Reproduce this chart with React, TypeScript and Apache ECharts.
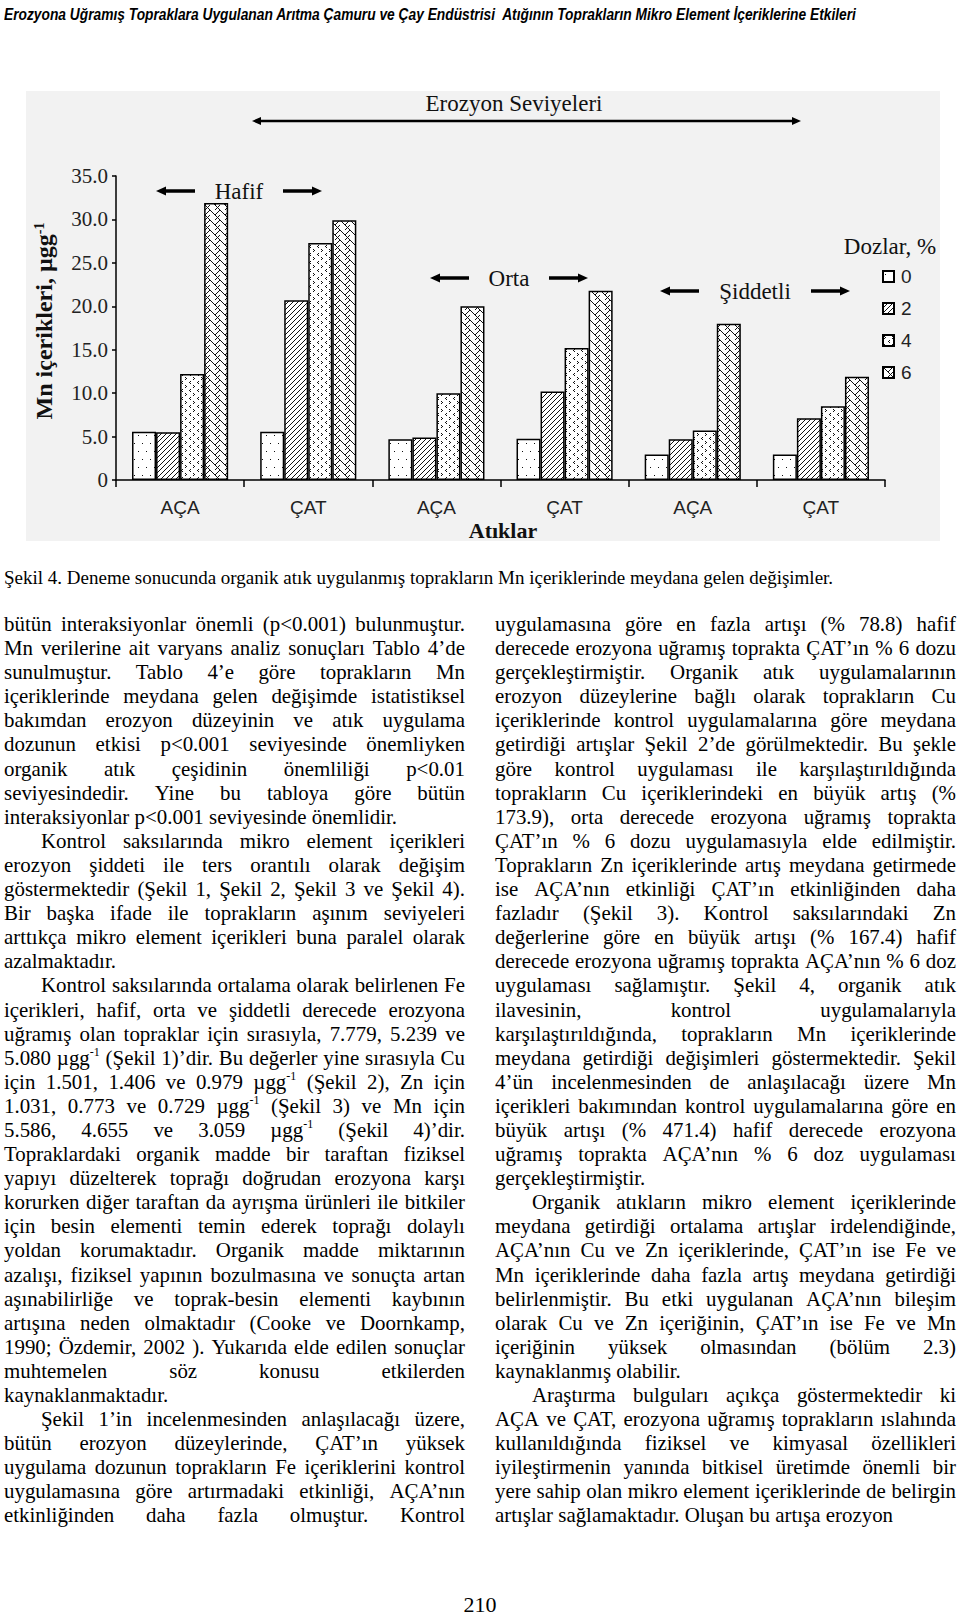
import React, { useEffect, useLayoutEffect, useRef } from 'react';
import * as echarts from 'echarts';

// ---------------- DATA ----------------
const erosionLevels = ['Hafif', 'Orta', 'Şiddetli'];
const categories = ['AÇA', 'ÇAT', 'AÇA', 'ÇAT', 'AÇA', 'ÇAT'];
const doses = ['0', '2', '4', '6'];
const dose0 = [5.55, 5.55, 4.7, 4.75, 2.95, 2.95];
const dose2 = [5.5, 20.7, 4.9, 10.2, 4.7, 7.1];
const dose4 = [12.2, 27.3, 10.0, 15.2, 5.7, 8.5];
const dose6 = [31.9, 29.9, 20.0, 21.8, 18.0, 11.9];
const yMin = 0;
const yMax = 35;
const yStep = 5;

const headerText =
  'Erozyona Uğramış Topraklara Uygulanan Arıtma Çamuru ve Çay Endüstrisi  Atığının Toprakların Mikro Element İçeriklerine Etkileri';
const captionText =
  'Şekil 4. Deneme sonucunda organik atık uygulanmış toprakların Mn içeriklerinde meydana gelen değişimler.';
const pageNumber = '210';

// mode: j = justified, e = paragraph end, ij = indented justified
const leftLines: [string, string][] = [
  ['bütün interaksiyonlar önemli (p<0.001) bulunmuştur.', 'j'],
  ['Mn verilerine ait varyans analiz sonuçları Tablo 4’de', 'j'],
  ['sunulmuştur. Tablo 4’e göre toprakların Mn', 'j'],
  ['içeriklerinde meydana gelen değişimde istatistiksel', 'j'],
  ['bakımdan erozyon düzeyinin ve atık uygulama', 'j'],
  ['dozunun etkisi p<0.001 seviyesinde önemliyken', 'j'],
  ['organik atık çeşidinin önemliliği p<0.01', 'j'],
  ['seviyesindedir. Yine bu tabloya göre bütün', 'j'],
  ['interaksiyonlar p<0.001 seviyesinde önemlidir.', 'e'],
  ['Kontrol saksılarında mikro element içerikleri', 'ij'],
  ['erozyon şiddeti ile ters orantılı olarak değişim', 'j'],
  ['göstermektedir (Şekil 1, Şekil 2, Şekil 3 ve Şekil 4).', 'j'],
  ['Bir başka ifade ile toprakların aşınım seviyeleri', 'j'],
  ['arttıkça mikro element içerikleri buna paralel olarak', 'j'],
  ['azalmaktadır.', 'e'],
  ['Kontrol saksılarında ortalama olarak belirlenen Fe', 'ij'],
  ['içerikleri, hafif, orta ve şiddetli derecede erozyona', 'j'],
  ['uğramış olan topraklar için sırasıyla, 7.779, 5.239 ve', 'j'],
  ['5.080 µgg^-1 (Şekil 1)’dir. Bu değerler yine sırasıyla Cu', 'j'],
  ['için 1.501, 1.406 ve 0.979 µgg^-1 (Şekil 2), Zn için', 'j'],
  ['1.031, 0.773 ve 0.729 µgg^-1 (Şekil 3) ve Mn için', 'j'],
  ['5.586, 4.655 ve 3.059 µgg^-1 (Şekil 4)’dir.', 'j'],
  ['Topraklardaki organik madde bir taraftan fiziksel', 'j'],
  ['yapıyı düzelterek toprağı doğrudan erozyona karşı', 'j'],
  ['korurken diğer taraftan da ayrışma ürünleri ile bitkiler', 'j'],
  ['için besin elementi temin ederek toprağı dolaylı', 'j'],
  ['yoldan korumaktadır. Organik madde miktarının', 'j'],
  ['azalışı, fiziksel yapının bozulmasına ve sonuçta artan', 'j'],
  ['aşınabilirliğe ve toprak-besin elementi kaybının', 'j'],
  ['artışına neden olmaktadır (Cooke ve Doornkamp,', 'j'],
  ['1990; Özdemir, 2002 ). Yukarıda elde edilen sonuçlar', 'j'],
  ['muhtemelen söz konusu etkilerden', 'j'],
  ['kaynaklanmaktadır.', 'e'],
  ['Şekil 1’in incelenmesinden anlaşılacağı üzere,', 'ij'],
  ['bütün erozyon düzeylerinde, ÇAT’ın yüksek', 'j'],
  ['uygulama dozunun toprakların Fe içeriklerini kontrol', 'j'],
  ['uygulamasına göre artırmadaki etkinliği, AÇA’nın', 'j'],
  ['etkinliğinden daha fazla olmuştur. Kontrol', 'j'],
];

const rightLines: [string, string][] = [
  ['uygulamasına göre en fazla artışı (% 78.8) hafif', 'j'],
  ['derecede erozyona uğramış toprakta ÇAT’ın % 6 dozu', 'j'],
  ['gerçekleştirmiştir. Organik atık uygulamalarının', 'j'],
  ['erozyon düzeylerine bağlı olarak toprakların Cu', 'j'],
  ['içeriklerinde kontrol uygulamalarına göre meydana', 'j'],
  ['getirdiği artışlar Şekil 2’de görülmektedir. Bu şekle', 'j'],
  ['göre kontrol uygulaması ile karşılaştırıldığında', 'j'],
  ['toprakların Cu içeriklerindeki en büyük artış (%', 'j'],
  ['173.9), orta derecede erozyona uğramış toprakta', 'j'],
  ['ÇAT’ın % 6 dozu uygulamasıyla elde edilmiştir.', 'j'],
  ['Toprakların Zn içeriklerinde artış meydana getirmede', 'j'],
  ['ise AÇA’nın etkinliği ÇAT’ın etkinliğinden daha', 'j'],
  ['fazladır (Şekil 3). Kontrol saksılarındaki Zn', 'j'],
  ['değerlerine göre en büyük artışı (% 167.4) hafif', 'j'],
  ['derecede erozyona uğramış toprakta AÇA’nın % 6 doz', 'j'],
  ['uygulaması sağlamıştır. Şekil 4, organik atık', 'j'],
  ['ilavesinin, kontrol uygulamalarıyla', 'j'],
  ['karşılaştırıldığında, toprakların Mn içeriklerinde', 'j'],
  ['meydana getirdiği değişimleri göstermektedir. Şekil', 'j'],
  ['4’ün incelenmesinden de anlaşılacağı üzere Mn', 'j'],
  ['içerikleri bakımından kontrol uygulamalarına göre en', 'j'],
  ['büyük artışı (% 471.4) hafif derecede erozyona', 'j'],
  ['uğramış toprakta AÇA’nın % 6 doz uygulaması', 'j'],
  ['gerçekleştirmiştir.', 'e'],
  ['Organik atıkların mikro element içeriklerinde', 'ij'],
  ['meydana getirdiği ortalama artışlar irdelendiğinde,', 'j'],
  ['AÇA’nın Cu ve Zn içeriklerinde, ÇAT’ın ise Fe ve', 'j'],
  ['Mn içeriklerinde daha fazla artış meydana getirdiği', 'j'],
  ['belirlenmiştir. Bu etki uygulanan AÇA’nın bileşim', 'j'],
  ['olarak Cu ve Zn içeriğinin, ÇAT’ın ise Fe ve Mn', 'j'],
  ['içeriğinin yüksek olmasından (bölüm 2.3)', 'j'],
  ['kaynaklanmış olabilir.', 'e'],
  ['Araştırma bulguları açıkça göstermektedir ki', 'ij'],
  ['AÇA ve ÇAT, erozyona uğramış toprakların ıslahında', 'j'],
  ['kullanıldığında fiziksel ve kimyasal özellikleri', 'j'],
  ['iyileştirmenin yanında bitkisel üretimde önemli bir', 'j'],
  ['yere sahip olan mikro element içeriklerinde de belirgin', 'j'],
  ['artışlar sağlamaktadır. Oluşan bu artışa erozyon', 'e'],
];

// ---------------- LAYOUT ----------------
const LH = 24.1;
const BODY_FS = 20.9;
const SERIF = '"Liberation Serif", "Times New Roman", serif';
const SANS = '"Liberation Sans", Arial, sans-serif';
const CHART_TOP = 80;

function renderWord(w: string, k: number) {
  const idx = w.indexOf('^');
  if (idx < 0) return <span key={k}>{w}</span>;
  return (
    <span key={k}>
      {w.slice(0, idx)}
      <sup style={{ fontSize: 12, lineHeight: 0, verticalAlign: 'baseline', position: 'relative', top: -9 }}>
        {w.slice(idx + 1)}
      </sup>
    </span>
  );
}

function Line({ t, m }: { t: string; m: string }) {
  const ref = useRef<HTMLDivElement>(null);
  const words = t.split(/\s+/).filter(Boolean);
  const indent = m.startsWith('i');
  const just = m.endsWith('j');
  useLayoutEffect(() => {
    const el = ref.current!;
    el.style.transform = 'none';
    if (el.scrollWidth > el.clientWidth + 0.5) {
      el.style.transformOrigin = '0 0';
      el.style.transform = `scaleX(${el.clientWidth / el.scrollWidth})`;
    }
  }, [t, m]);
  const style: React.CSSProperties = {
    height: LH,
    lineHeight: LH + 'px',
    whiteSpace: 'nowrap',
    paddingLeft: indent ? 37 : 0,
    display: just ? 'flex' : 'block',
    justifyContent: 'space-between',
  };
  if (just)
    return (
      <div ref={ref} style={style}>
        {words.map(renderWord)}
      </div>
    );
  const parts: React.ReactNode[] = [];
  words.forEach((w, k) => {
    if (k) parts.push(<span key={'s' + k}> </span>);
    parts.push(renderWord(w, k));
  });
  return (
    <div ref={ref} style={style}>
      {parts}
    </div>
  );
}

function makePattern(w: number, h: number, pixels: [number, number][]) {
  const c = document.createElement('canvas');
  c.width = w;
  c.height = h;
  const g = c.getContext('2d')!;
  g.fillStyle = '#ffffff';
  g.fillRect(0, 0, w, h);
  g.fillStyle = '#111111';
  pixels.forEach(([x, y]) => g.fillRect(x, y, 1, 1));
  return { image: c.toDataURL(), imageWidth: w, imageHeight: h, repeat: 'repeat' };
}

function buildPatterns() {
  const dots = makePattern(8, 16, [[2, 3], [6, 11]]);
  const hatchPx: [number, number][] = [];
  for (let i = 0; i < 5; i++) hatchPx.push([i, 4 - i]);
  const hatch = makePattern(5, 5, hatchPx);
  const chev = makePattern(8, 8, [[1, 1], [2, 2], [1, 3], [6, 5], [5, 6], [6, 7]]);
  const weavePx: [number, number][] = [];
  for (let i = 0; i < 10; i++) weavePx.push([i, i]);
  for (let i = 0; i < 5; i++) weavePx.push([9 - i, i]);
  for (let i = 5; i < 10; i++) weavePx.push([14 - i, i]);
  const weave = makePattern(10, 10, weavePx);
  return [dots, hatch, chev, weave];
}

function arrow(x1: number, x2: number, y: number, left: boolean, right: boolean, lw: number, hl: number, hh: number) {
  const els: any[] = [];
  const a = left ? x1 + hl - 1 : x1;
  const b = right ? x2 - hl + 1 : x2;
  els.push({ type: 'line', shape: { x1: a, y1: y, x2: b, y2: y }, style: { stroke: '#000', lineWidth: lw } });
  if (left)
    els.push({ type: 'polygon', shape: { points: [[x1, y], [x1 + hl, y - hh], [x1 + hl, y + hh]] }, style: { fill: '#000' } });
  if (right)
    els.push({ type: 'polygon', shape: { points: [[x2, y], [x2 - hl, y - hh], [x2 - hl, y + hh]] }, style: { fill: '#000' } });
  return els;
}

const Chart: React.FC = () => {
  const ref = useRef<HTMLDivElement>(null);
  useEffect(() => {
    const chart = echarts.init(ref.current!, null, { renderer: 'svg' });
    const patterns = buildPatterns();
    const seriesValues = [dose0, dose2, dose4, dose6];
    const axisLine = { color: '#000', width: 1.5 };

    // annotation layout (chart-div coordinates)
    const levelText = [
      { x: 239, y: 111, hw: 25 },
      { x: 509, y: 198, hw: 21 },
      { x: 755, y: 211, hw: 37 },
    ];
    const graphics: any[] = [
      { type: 'rect', z: -10, shape: { x: 26, y: 11, width: 914, height: 450 }, style: { fill: '#f2f2f2' } },
      {
        type: 'text', x: 514, y: 23,
        style: { text: 'Erozyon Seviyeleri', fontFamily: SERIF, fontSize: 23, fill: '#111', textAlign: 'center', textVerticalAlign: 'middle', align: 'center', verticalAlign: 'middle' },
      },
      ...arrow(252, 801, 41, true, true, 2.5, 9, 4),
      {
        type: 'text', x: 890, y: 166,
        style: { text: 'Dozlar, %', fontFamily: SERIF, fontSize: 23, fill: '#111', textAlign: 'center', textVerticalAlign: 'middle', align: 'center', verticalAlign: 'middle' },
      },
      {
        type: 'text', x: 503, y: 450,
        style: { text: 'Atıklar', fontFamily: SERIF, fontSize: 22, fontWeight: 'bold', fill: '#111', textAlign: 'center', textVerticalAlign: 'middle', align: 'center', verticalAlign: 'middle' },
      },
      {
        type: 'text', x: 44, y: 241, rotation: Math.PI / 2,
        style: {
          text: '{m|Mn içerikleri, µgg}{s|-1}',
          textAlign: 'center', textVerticalAlign: 'middle', align: 'center', verticalAlign: 'middle',
          rich: {
            m: { fontFamily: SERIF, fontSize: 24, fontWeight: 'bold', fill: '#111', color: '#111', verticalAlign: 'bottom' },
            s: { fontFamily: SERIF, fontSize: 14, fontWeight: 'bold', fill: '#111', color: '#111', verticalAlign: 'top' },
          },
        },
      },
    ];
    erosionLevels.forEach((lv, i) => {
      const t = levelText[i];
      graphics.push({
        type: 'text', x: t.x, y: t.y,
        style: { text: lv, fontFamily: SERIF, fontSize: 23, fill: '#111', textAlign: 'center', textVerticalAlign: 'middle', align: 'center', verticalAlign: 'middle' },
      });
      graphics.push(...arrow(t.x - t.hw - 19 - 39, t.x - t.hw - 19, t.y, true, false, 3.5, 10, 4.5));
      graphics.push(...arrow(t.x + t.hw + 19, t.x + t.hw + 19 + 39, t.y, false, true, 3.5, 10, 4.5));
    });

    chart.setOption({
      animation: false,
      backgroundColor: 'transparent',
      grid: { left: 116, right: 75, top: 96, bottom: 70, containLabel: false },
      legend: {
        show: true,
        orient: 'vertical',
        left: 882,
        top: 187,
        itemWidth: 11,
        itemHeight: 11,
        itemGap: 13,
        padding: 0,
        icon: 'rect',
        data: doses,
        textStyle: { fontFamily: SANS, fontSize: 19, color: '#222', padding: [0, 0, 0, 2] },
      },
      xAxis: {
        type: 'category',
        data: categories,
        axisLine: { show: true, lineStyle: axisLine },
        axisTick: { show: true, length: 7, alignWithLabel: false, lineStyle: axisLine },
        axisLabel: { fontFamily: SANS, fontSize: 19, color: '#222', margin: 18 },
        splitLine: { show: false },
      },
      yAxis: {
        type: 'value',
        min: yMin,
        max: yMax,
        interval: yStep,
        axisLine: { show: true, lineStyle: axisLine },
        axisTick: { show: true, length: 4, lineStyle: axisLine },
        splitLine: { show: false },
        axisLabel: {
          fontFamily: SERIF,
          fontSize: 21,
          color: '#222',
          margin: 8,
          formatter: (v: number) => (v === 0 ? '0' : v.toFixed(1)),
        },
      },
      series: doses.map((d, i) => ({
        type: 'bar',
        name: d,
        data: seriesValues[i],
        barGap: '0%',
        barCategoryGap: '25%',
        itemStyle: { color: patterns[i] as any, borderColor: '#000', borderWidth: 1.5 },
      })),
      graphic: graphics,
    });
    return () => chart.dispose();
  }, []);
  return <div ref={ref} style={{ position: 'absolute', left: 0, top: CHART_TOP, width: 960, height: 470 }} />;
};

const Fit: React.FC<{ width: number; style: React.CSSProperties; children: React.ReactNode }> = ({ width, style, children }) => {
  const ref = useRef<HTMLSpanElement>(null);
  useLayoutEffect(() => {
    const el = ref.current!;
    el.style.transform = 'none';
    const w = el.offsetWidth;
    if (w > 0) el.style.transform = `scaleX(${width / w})`;
  }, [width]);
  return (
    <span ref={ref} style={{ ...style, display: 'inline-block', whiteSpace: 'pre', transformOrigin: '0 0', position: 'absolute' }}>
      {children}
    </span>
  );
};

export default function App() {
  useEffect(() => {
    document.body.style.background = '#fff';
  }, []);
  return (
    <div style={{ position: 'absolute', left: 0, top: 0, width: 960, height: 1617, background: '#fff', overflow: 'hidden', color: '#000' }}>
      <Fit
        width={852}
        style={{ left: 4, top: 5, fontFamily: '"Liberation Sans Narrow", "Liberation Sans", Arial, sans-serif', fontWeight: 'bold', fontStyle: 'italic', fontSize: 16, lineHeight: '20px' }}
      >
        {headerText}
      </Fit>
      <Chart />
      <Fit width={829} style={{ left: 4, top: 566, fontFamily: SERIF, fontSize: 19, lineHeight: '24px' }}>
        {captionText}
      </Fit>
      <div style={{ position: 'absolute', left: 4, top: 612, width: 461, fontFamily: SERIF, fontSize: BODY_FS }}>
        {leftLines.map(([t, m], i) => (
          <Line key={i} t={t} m={m} />
        ))}
      </div>
      <div style={{ position: 'absolute', left: 495, top: 612, width: 461, fontFamily: SERIF, fontSize: BODY_FS }}>
        {rightLines.map(([t, m], i) => (
          <Line key={i} t={t} m={m} />
        ))}
      </div>
      <div style={{ position: 'absolute', left: 0, width: 960, top: 1593, textAlign: 'center', fontFamily: SERIF, fontSize: 22, lineHeight: '24px' }}>
        {pageNumber}
      </div>
    </div>
  );
}
